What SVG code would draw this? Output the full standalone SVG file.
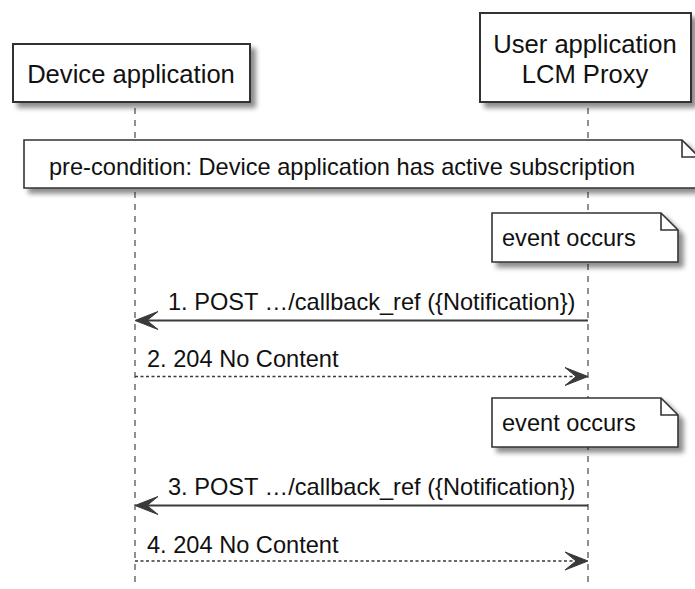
<svg xmlns="http://www.w3.org/2000/svg" width="695" height="589" viewBox="0 0 695 589">
<defs>
<filter id="sh" x="-10%" y="-20%" width="130%" height="160%">
<feGaussianBlur in="SourceAlpha" stdDeviation="2.5"/>
<feOffset dx="5" dy="5" result="b"/>
<feComponentTransfer><feFuncA type="linear" slope="0.45"/></feComponentTransfer>
<feMerge><feMergeNode/><feMergeNode in="SourceGraphic"/></feMerge>
</filter>
<style>
.box{fill:#ffffff;stroke:#333333;stroke-width:2}
.note{fill:#ffffff;stroke:#333333;stroke-width:1.6}
.fold{fill:none;stroke:#333333;stroke-width:1.6}
.life{stroke:#555555;stroke-width:1.3;stroke-dasharray:6,6;fill:none}
.msg{stroke:#3a3a3a;stroke-width:1.8;fill:none}
.rmsg{stroke:#3a3a3a;stroke-width:1.4;fill:none;stroke-dasharray:3,2.5}
.head{fill:#3a3a3a;stroke:#3a3a3a;stroke-width:1}
.pt{font-family:"Liberation Sans",Arial,sans-serif;font-size:25.6px;fill:#111111}
.t{font-family:"Liberation Sans",Arial,sans-serif;font-size:23.6px;fill:#111111}
</style>
</defs>

<g id="lifelines">
<line class="life" x1="135" y1="108" x2="135" y2="582"/>
<line class="life" x1="588" y1="108" x2="588" y2="582"/>
</g>

<g id="device-application">
<rect class="box" x="13" y="44" width="237" height="58" filter="url(#sh)"/>
<text class="pt" x="131" y="83" text-anchor="middle">Device application</text>
</g>

<g id="user-application-lcm-proxy">
<rect class="box" x="480" y="13" width="211" height="89" filter="url(#sh)"/>
<text class="pt" x="585" y="53" text-anchor="middle">User application</text>
<text class="pt" x="585" y="83" text-anchor="middle">LCM Proxy</text>
</g>

<g id="note-precondition">
<path class="note" d="M24,140 H682 L699,157 V188 H24 Z" filter="url(#sh)"/>
<path class="fold" d="M682,140 V157 H699"/>
<text class="t" x="49" y="175">pre-condition: Device application has active subscription</text>
</g>

<g id="note-event-1">
<path class="note" d="M492,213 H661 L678,230 V262 H492 Z" filter="url(#sh)"/>
<path class="fold" d="M661,213 V230 H678"/>
<text class="t" x="502" y="246">event occurs</text>
</g>

<g id="note-event-2">
<path class="note" d="M492,398 H661 L678,415 V447 H492 Z" filter="url(#sh)"/>
<path class="fold" d="M661,398 V415 H678"/>
<text class="t" x="502" y="431">event occurs</text>
</g>

<g id="connectors">
<line class="msg" x1="588" y1="320.5" x2="140" y2="320.5"/>
<polygon class="head" points="135,320.5 158,311.5 147,320.5 158,329.5"/>
<text class="t" x="168" y="309.5">1. POST …/callback_ref ({Notification})</text>

<line class="rmsg" x1="135" y1="376.5" x2="583" y2="376.5"/>
<polygon class="head" points="588,376.5 565,367.5 576,376.5 565,385.5"/>
<text class="t" x="147" y="367">2. 204 No Content</text>

<line class="msg" x1="588" y1="505.5" x2="140" y2="505.5"/>
<polygon class="head" points="135,505.5 158,496.5 147,505.5 158,514.5"/>
<text class="t" x="168" y="495">3. POST …/callback_ref ({Notification})</text>

<line class="rmsg" x1="135" y1="561" x2="583" y2="561"/>
<polygon class="head" points="588,561 565,552 576,561 565,570"/>
<text class="t" x="147" y="552.5">4. 204 No Content</text>
</g>
</svg>
